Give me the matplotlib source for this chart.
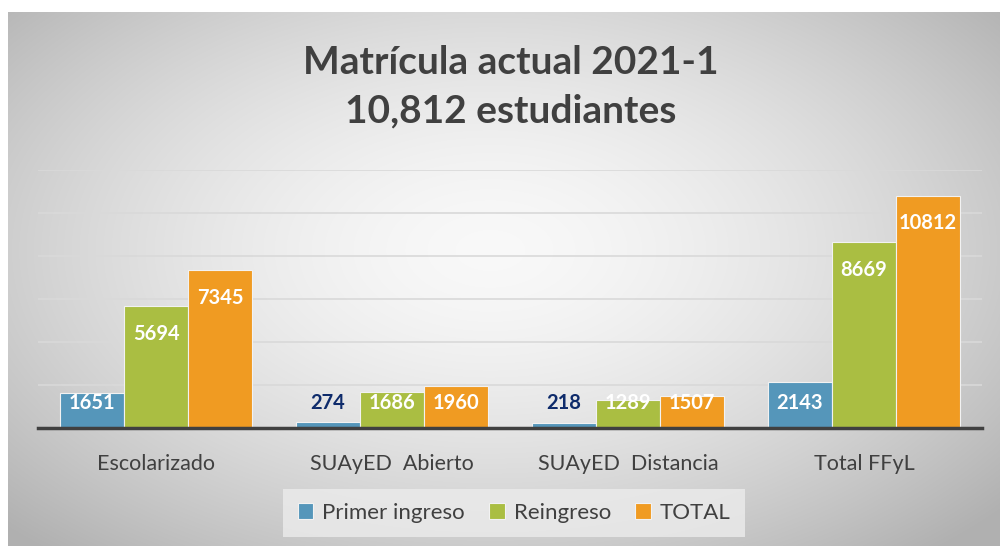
import matplotlib
matplotlib.use("Agg")
import matplotlib.pyplot as plt
import numpy as np

categorias = ["Escolarizado", "SUAyED  Abierto", "SUAyED  Distancia", "Total FFyL"]
primer_ingreso = [1651, 274, 218, 2143]
reingreso = [5694, 1686, 1289, 8669]
total = [7345, 1960, 1507, 10812]
series = ["Primer ingreso", "Reingreso", "TOTAL"]
colores = ["#5596BA", "#AABE42", "#F09B22"]

plt.rcParams['font.family'] = ['Lato', 'DejaVu Sans']

W, H = 1000, 546
fig = plt.figure(figsize=(W / 100, H / 100), dpi=100)

# fondo con degradado radial
bg = fig.add_axes([0, 0, 1, 1], zorder=-10)
yy, xx = np.mgrid[0:H, 0:W]
r = np.sqrt(((xx - 490) / 560.0) ** 2 + ((yy - 250) / 330.0) ** 2)
val = 0.975 - 0.21 * np.clip(r, 0, 1.2) ** 1.6
img = np.dstack([val, val, val])
img[:12, :, :] = 1.0
img[:, :8, :] = 1.0
bg.imshow(img, aspect="auto", extent=[0, 1, 0, 1], origin="upper")
bg.set_axis_off()

ax = fig.add_axes([38 / W, (H - 428) / H, (982 - 38) / W, (428 - 170) / H])
ax.patch.set_alpha(0)
x = np.arange(len(categorias))
bw = 0.271
for i, (vals, c, nombre) in enumerate(zip([primer_ingreso, reingreso, total], colores, series)):
    pos = x + (i - 1) * bw
    ax.bar(pos, vals, width=bw, color=c, edgecolor="#f2f2f2", linewidth=0.8, label=nombre, zorder=3)
    for p, v in zip(pos, vals):
        ly = max(v - 1300, 1160)
        col = "#0E2B6B" if v < 1000 else "white"
        ax.text(p, ly, str(v), ha="center", va="center", color=col,
                fontsize=14.5, fontweight="bold", zorder=4)

ax.set_xlim(-0.5, 3.5)
ax.set_ylim(0, 12000)
ax.set_yticks(np.arange(0, 12001, 2000))
ax.yaxis.grid(True, color="#d9d9d9", linewidth=1.2, zorder=0)
ax.tick_params(axis="y", left=False, labelleft=False)
ax.tick_params(axis="x", bottom=False, labelsize=15.5, labelcolor="#404040", pad=15)
ax.set_xticks(x)
ax.set_xticklabels(categorias)
for s in ["top", "right", "left"]:
    ax.spines[s].set_visible(False)
ax.spines["bottom"].set_color("#404040")
ax.spines["bottom"].set_linewidth(2.5)
ax.spines["bottom"].set_zorder(5)

leg = fig.legend(loc="center", bbox_to_anchor=(514 / W, 1 - 513 / H), ncol=3,
                 fontsize=16, frameon=True, fancybox=False, handlelength=0.7,
                 handleheight=0.7, columnspacing=1.1, handletextpad=0.4,
                 borderpad=0.65)
leg.get_frame().set_facecolor("#ececec")
leg.get_frame().set_edgecolor("none")
for t in leg.get_texts():
    t.set_color("#404040")

fig.text(511 / W, 1 - 63 / H, "Matrícula actual 2021-1", ha="center", va="center",
         fontsize=28, fontweight="bold", color="#404040")
fig.text(511 / W, 1 - 111 / H, "10,812 estudiantes", ha="center", va="center",
         fontsize=28, fontweight="bold", color="#404040")

fig.savefig("out.png", dpi=100)
